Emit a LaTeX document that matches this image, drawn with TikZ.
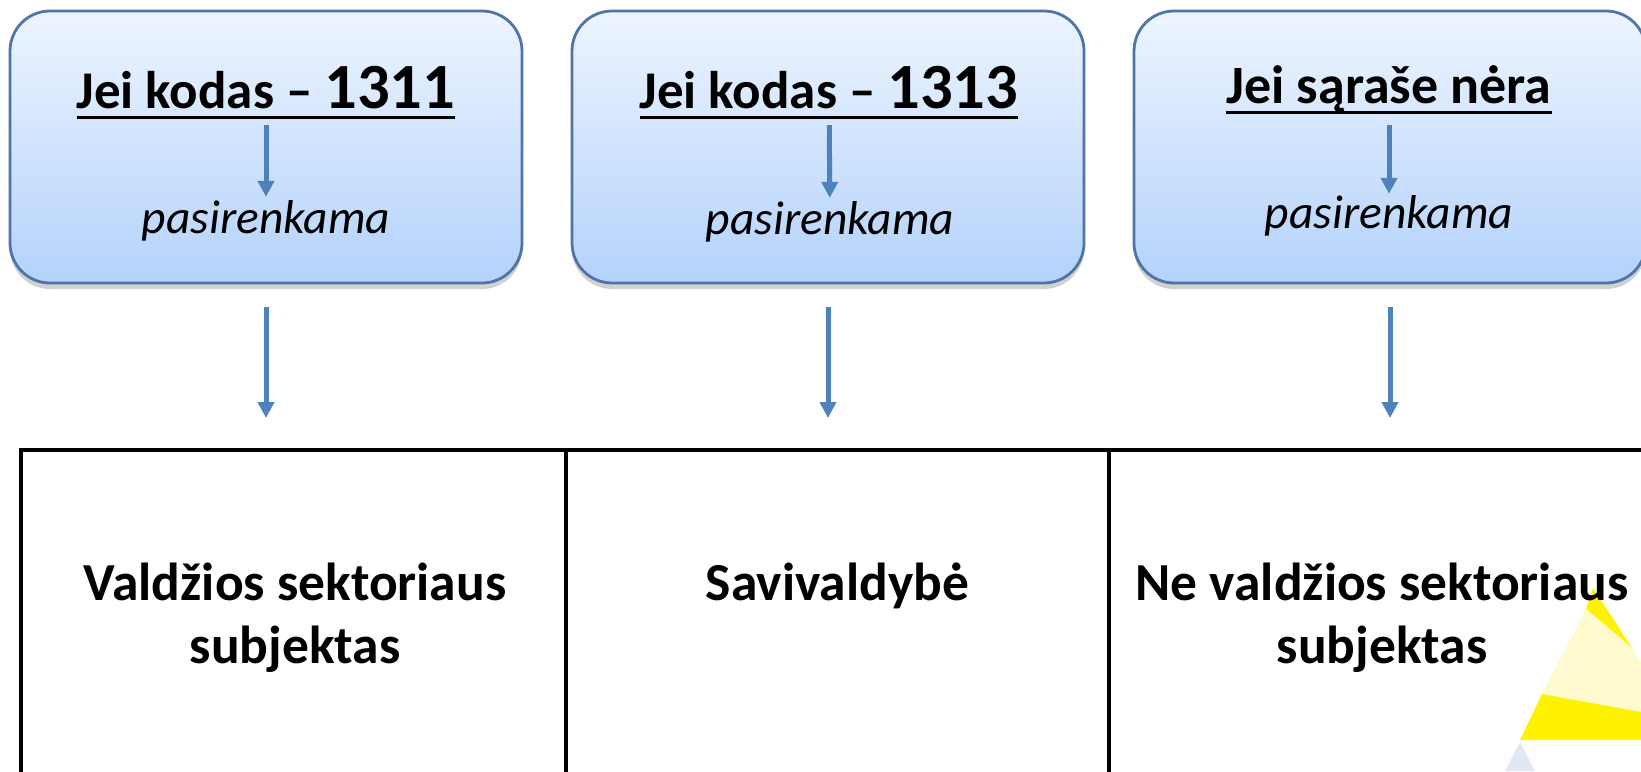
\documentclass[tikz,border=0pt]{standalone}
\usepackage{fontspec}
\setmainfont{Carlito}
\usetikzlibrary{positioning,arrows.meta,shadows}

\definecolor{boxtop}{HTML}{EDF5FF}
\definecolor{boxbot}{HTML}{B4D2FB}
\definecolor{boxline}{HTML}{4F74A8}
\definecolor{arrowblue}{HTML}{4F81BD}
\definecolor{triyellow}{HTML}{FFF200}
\definecolor{trilight}{HTML}{FFFAD0}
\definecolor{triblue}{HTML}{E2E8F3}

\newcommand{\titleline}[1]{\setbox0\hbox{#1}\rlap{\rule[-10.5pt]{\wd0}{3pt}}\box0}

\tikzset{
	roundbox/.style={draw=boxline, line width=2.8pt, rounded corners=40pt,
		top color=boxtop, bottom color=boxbot,
		minimum width=512pt, minimum height=272pt,
		drop shadow={shadow xshift=0pt, shadow yshift=-6pt, opacity=0.3, fill=black!60}},
	headtext/.style={font=\fontsize{53}{63}\selectfont\bfseries, inner sep=0pt, anchor=base},
	choicetext/.style={font=\fontsize{47.5}{57}\selectfont\itshape, inner sep=0pt, anchor=base},
	tablecell/.style={draw, line width=4pt, minimum height=370pt},
	celltext/.style={font=\fontsize{53.5}{62.5}\selectfont\bfseries, align=center, inner sep=0pt, anchor=north},
	bluearrow/.style={draw=arrowblue, line width=5pt, -{Triangle[width=16pt,length=16pt]}},
}

\begin{document}
\begin{tikzpicture}[x=1pt, y=-1pt]
	\def \bigsize{ 64.5 };
	\def \shortin{ 6.5 };
	\def \shortout{ 3 };
	\def \short{ 23 };
	\def \shortend{ 30 };
	\useasboundingbox (0,0) rectangle (1641,771);
	\clip (0,0) rectangle (1641,771);
	% yellow triangles in the corner
	\fill[triyellow] (1593,588) -- (1586,609) -- (1632,648) -- cycle;
	\fill[trilight] (1586,609) -- (1542,694) -- (1641,712) -- (1641,662) -- (1632,648) -- cycle;
	\fill[triyellow] (1542,694) -- (1520,740) -- (1641,740) -- (1641,712) -- cycle;
	\fill[triblue] (1520,742) -- (1505,771) -- (1535,771) -- cycle;
	% upper boxes
	\node[roundbox] (b1) at (266,147) {};
	\node[roundbox] (b2) at (828,147) {};
	\node[roundbox] (b3) at (1390,147) {};
	\node[headtext] (h1) at (266,108) {\titleline{Jei kodas -- {\fontsize{\bigsize}{\bigsize}\selectfont 1311}}};
	\node[headtext] (h2) at (829,108) {\titleline{Jei kodas -- {\fontsize{\bigsize}{\bigsize}\selectfont 1313}}};
	\node[headtext, font=\fontsize{54}{64}\selectfont\bfseries] (h3) at (1389,103) {\titleline{Jei sąraše nėra}};
	\node[choicetext] (p1) at (266,233) {pasirenkama};
	\node[choicetext] (p2) at (830,234) {pasirenkama};
	\node[choicetext] (p3) at (1389,228) {pasirenkama};
	\draw[bluearrow, shorten <= \shortin, shorten >= \shortout] (h1) -- (p1);
	\draw[bluearrow, shorten <= \shortin, shorten >= \shortout] (h2) -- (p2);
	\draw[bluearrow, shorten <= 11, shorten >= 1] (h3) -- (p3);
	% table
	\node[tablecell, minimum width=545pt] (c1) at (293.5,635) {};
	\node[tablecell, minimum width=543pt] (c2) at (837.5,635) {};
	\node[tablecell, minimum width=543pt] (c3) at (1380.5,635) {};
	\node[celltext] (t1) at (295,563) {Valdžios sektoriaus\\subjektas};
	\node[celltext] (t2) at (837.5,563) {Savivaldybė};
	\node[celltext] (t3) at (1382,563) {Ne valdžios sektoriaus\\subjektas};
	\draw[bluearrow, shorten <= \short, shorten >= \shortend] (b1.south) -- (b1.south |- c1.north);
	\draw[bluearrow, shorten <= \short, shorten >= \shortend] (b2.south) -- (b2.south |- c2.north);
	\draw[bluearrow, shorten <= \short, shorten >= \shortend] (b3.south) -- (b3.south |- c3.north);
\end{tikzpicture}
\end{document}
